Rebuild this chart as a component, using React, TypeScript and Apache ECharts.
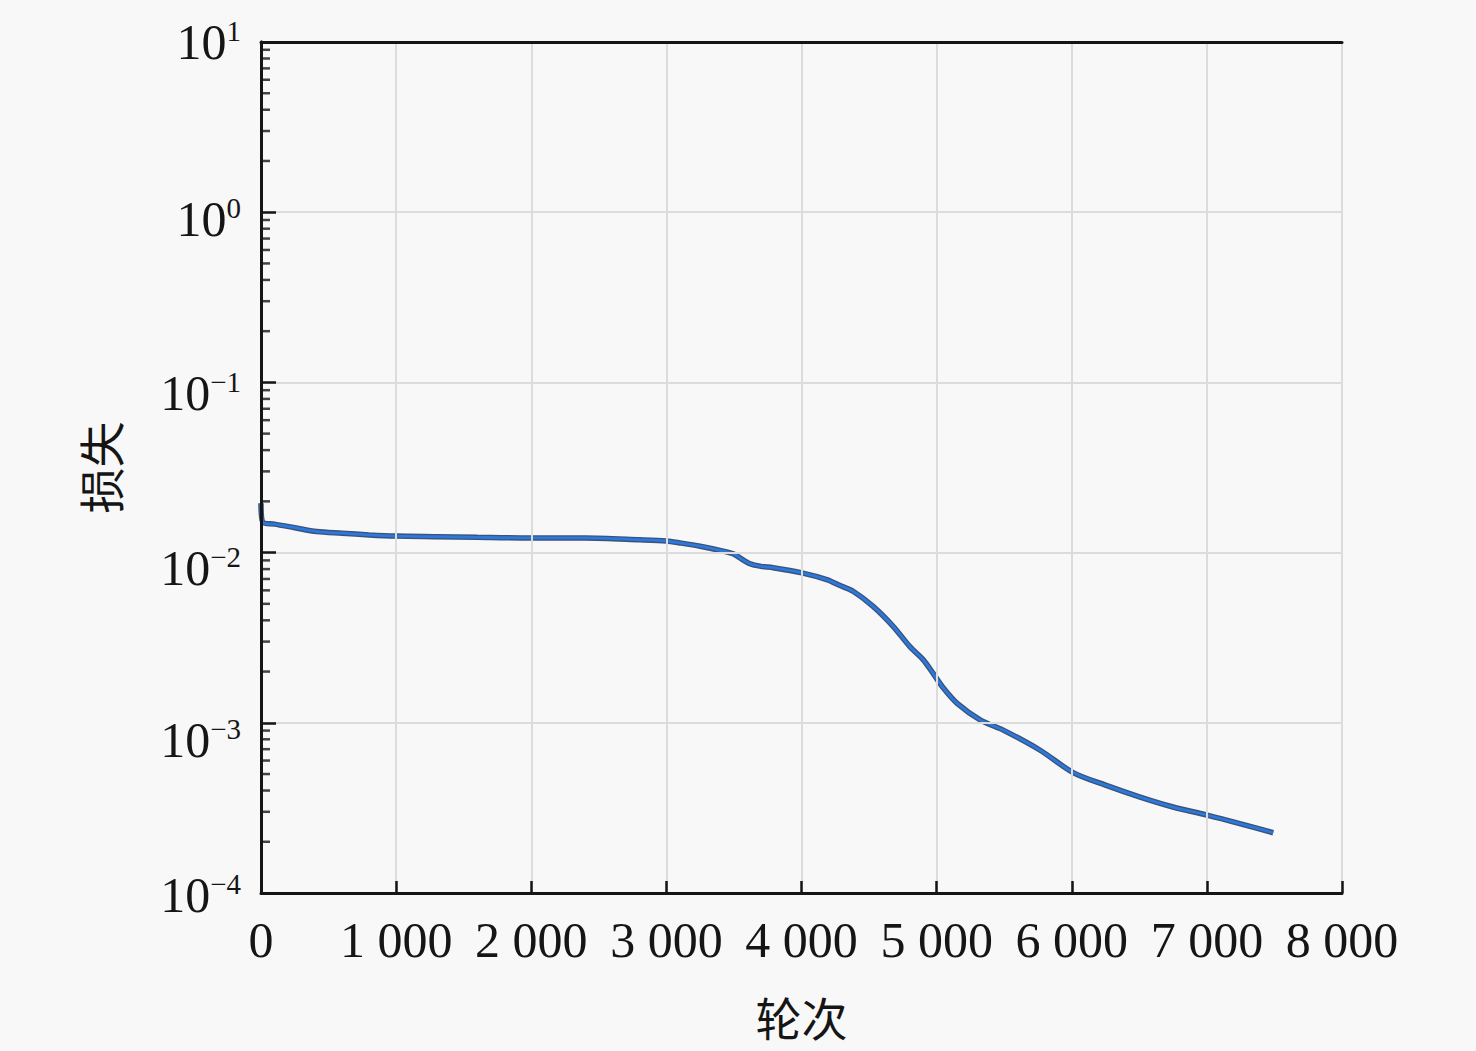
import React, { useEffect, useRef } from "react";
import * as echarts from "echarts";

const epochs = [
  0, 15, 100, 250, 412, 600, 800, 1000, 1300, 1600, 2000, 2400, 2805, 3000,
  3101, 3250, 3420, 3500, 3545, 3619, 3700, 3790, 4002, 4187, 4286, 4382,
  4530, 4678, 4804, 4900, 4974, 5050, 5152, 5322, 5500, 5766, 6010, 6250,
  6506, 6750, 7002, 7250, 7491,
];
const losses = [
  0.0195, 0.015, 0.0147, 0.014, 0.0133, 0.013, 0.0127, 0.0125, 0.0124, 0.0123,
  0.0122, 0.0122, 0.0119, 0.0117, 0.0114, 0.0109, 0.0102, 0.0098, 0.0093,
  0.0086, 0.0083, 0.00815, 0.0076, 0.00694, 0.0064, 0.00593, 0.00483, 0.00369,
  0.00279, 0.00235, 0.00195, 0.0016, 0.0013, 0.00104, 0.0009, 0.00069, 0.00051,
  0.00043, 0.000366, 0.00032, 0.000287, 0.000255, 0.000226,
];
const yExponents = [1, 0, -1, -2, -3, -4];
const minorMultipliers = [2, 3, 4, 5, 6, 7, 8, 9];
const minorDecades = [1e-4, 1e-3, 1e-2, 1e-1, 1e0];

// downward shift of each y label (px), matching the reference layout
const labelShift: Record<string, number> = {
  "1": 0,
  "0": 7,
  "-1": 11,
  "-2": 15,
  "-3": 17,
  "-4": 2,
};

const SERIF = "'Liberation Serif', 'DejaVu Serif', serif";
const CJK = "'Noto Sans CJK SC', sans-serif";
const INK = "#151515";

function keyOf(e: number) {
  return e < 0 ? "m" + -e : "p" + e;
}

export default function App() {
  const ref = useRef<HTMLDivElement>(null);
  useEffect(() => {
    const chart = echarts.init(ref.current!, null, { renderer: "svg" });
    const lineData = epochs.map((x, i) => [x, losses[i]]);
    const minorData: number[][] = [];
    minorDecades.forEach((d) =>
      minorMultipliers.forEach((m) => minorData.push([0, +(m * d).toPrecision(3)]))
    );
    const rich: Record<string, any> = {};
    yExponents.forEach((e) => {
      const d = labelShift[String(e)] || 0;
      rich["b" + keyOf(e)] = {
        fontSize: 50,
        fontFamily: SERIF,
        color: INK,
        lineHeight: 50,
        padding: [2 * d, 0, 0, 0],
      };
      rich["s" + keyOf(e)] = {
        fontSize: 29,
        fontFamily: SERIF,
        color: INK,
        padding: [2 * d, 0, 22, 0],
      };
    });
    chart.setOption({
      animation: false,
      backgroundColor: "#f8f8f8",
      grid: {
        left: 261,
        right: 134,
        top: 42,
        bottom: 158,
        show: false,
      },
      xAxis: [
        {
          type: "value",
          min: 0,
          max: 8000,
          interval: 1000,
          axisLine: { show: true, lineStyle: { color: INK, width: 3 } },
          axisTick: { inside: true, length: 12, lineStyle: { color: INK, width: 2.5 } },
          axisLabel: {
            margin: 22,
            fontSize: 50,
            fontFamily: SERIF,
            color: INK,
            showMinLabel: true,
            showMaxLabel: true,
            formatter: (v: number) =>
              v === 0 ? "0" : String(v).replace(/\B(?=(\d{3})+(?!\d))/g, " "),
          },
          splitLine: { show: true, lineStyle: { color: "#dcdcdc", width: 2 } },
          name: "轮次",
          nameLocation: "middle",
          nameGap: 100,
          nameTextStyle: { fontSize: 46, fontFamily: CJK, color: INK },
          z: 10,
        },
        {
          type: "value",
          position: "top",
          min: 0,
          max: 8000,
          interval: 1000,
          axisLine: { show: true, lineStyle: { color: INK, width: 3 } },
          axisTick: { show: false },
          axisLabel: { show: false },
          splitLine: { show: false },
          z: 10,
        },
      ],
      yAxis: [
        {
          type: "log",
          logBase: 10,
          min: 1e-4,
          max: 10,
          splitNumber: 5,
          axisLine: { show: true, lineStyle: { color: INK, width: 3 } },
          axisTick: { inside: true, length: 15, lineStyle: { color: INK, width: 2.5 } },
          axisLabel: {
            margin: 20,
            color: INK,
            formatter: (v: number) => {
              const e = Math.round(Math.log10(v));
              const s = e < 0 ? "\u2212" + -e : String(e);
              return `{b${keyOf(e)}|10}{s${keyOf(e)}|${s}}`;
            },
            rich,
          },
          splitLine: { show: true, lineStyle: { color: "#dcdcdc", width: 2 } },
          name: "损失",
          nameLocation: "middle",
          nameGap: 139,
          nameRotate: 90,
          nameTextStyle: { fontSize: 46, fontFamily: CJK, color: INK },
          z: 10,
        },
        {
          type: "log",
          logBase: 10,
          position: "right",
          min: 1e-4,
          max: 10,
          axisLine: { show: true, lineStyle: { color: INK, width: 3 } },
          axisTick: { show: false },
          axisLabel: { show: false },
          splitLine: { show: false },
          z: 10,
        },
      ],
      series: [
        {
          type: "scatter",
          data: minorData,
          symbol: "rect",
          symbolSize: [9, 2.5],
          symbolOffset: [4.5, 0],
          itemStyle: { color: INK },
          silent: true,
          clip: false,
          z: 5,
        },
        {
          type: "line",
          data: lineData,
          showSymbol: false,
          smooth: 0.3,
          lineStyle: { color: "#3a5378", width: 5.5 },
          z: 3,
        },
        {
          type: "line",
          data: lineData,
          showSymbol: false,
          smooth: 0.3,
          lineStyle: { color: "#2c78dc", width: 2.8 },
          z: 4,
        },
      ],
    });
    return () => chart.dispose();
  }, []);
  return (
    <div
      ref={ref}
      style={{ position: "absolute", left: 0, top: 0, width: 1476, height: 1051 }}
    />
  );
}
